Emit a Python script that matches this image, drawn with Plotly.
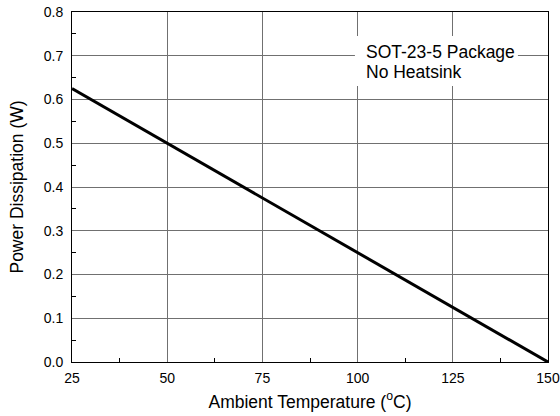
import plotly.graph_objects as go

temps = [25, 150]
power = [0.625, 0.0]
x_ticks = [25, 50, 75, 100, 125, 150]
y_ticks = [0.0, 0.1, 0.2, 0.3, 0.4, 0.5, 0.6, 0.7, 0.8]
y_tick_text = ["%.1f" % v for v in y_ticks]
note_lines = ["SOT-23-5 Package", "No Heatsink"]

FONT = "Liberation Sans, Arial, sans-serif"

fig = go.Figure()
fig.add_trace(go.Scatter(x=temps, y=power, mode="lines",
                         line=dict(color="black", width=3), showlegend=False,
                         hoverinfo="skip"))

fig.add_shape(type="rect", xref="x", yref="y", x0=99.3, x1=142.1, y0=0.631, y1=0.745,
              fillcolor="white", line=dict(width=0), layer="between")
fig.add_annotation(x=101.7, y=0.708, xref="x", yref="y", text=note_lines[0],
                   showarrow=False, xanchor="left", yanchor="middle",
                   font=dict(family=FONT, size=17.5, color="black"))
fig.add_annotation(x=101.7, y=0.663, xref="x", yref="y", text=note_lines[1],
                   showarrow=False, xanchor="left", yanchor="middle",
                   font=dict(family=FONT, size=17.5, color="black"))

axis_common = dict(showline=True, linecolor="black", linewidth=1, mirror=True,
                   showgrid=True, gridcolor="#707070", gridwidth=1, zeroline=False,
                   automargin=False,
                   ticks="", tickfont=dict(family=FONT, size=14, color="black"),
                   title_font=dict(family=FONT, size=17.5, color="black"))

fig.update_xaxes(range=[25, 150], tickvals=x_ticks, ticktext=[str(v) for v in x_ticks],
                 title_text="Ambient Temperature (<sup>o</sup>C)", title_standoff=10,
                 minor=dict(ticks="inside", ticklen=4, tickcolor="black",
                            tickvals=[37.5, 62.5, 87.5, 112.5, 137.5], showgrid=False),
                 ticklabelstandoff=3,
                 **axis_common)
fig.update_yaxes(range=[0, 0.8], tickvals=y_ticks, ticktext=y_tick_text,
                 title_text="Power Dissipation (W)", title_standoff=15,
                 minor=dict(ticks="inside", ticklen=4, tickcolor="black",
                            tickvals=[0.05, 0.15, 0.25, 0.35, 0.45, 0.55, 0.65, 0.75],
                            showgrid=False),
                 ticklabelstandoff=5,
                 **axis_common)

fig.update_layout(width=560, height=416, margin=dict(l=72, r=12, t=12, b=54),
                  plot_bgcolor="white", paper_bgcolor="white",
                  font=dict(family=FONT, color="black"))

fig.write_html("out.html")
